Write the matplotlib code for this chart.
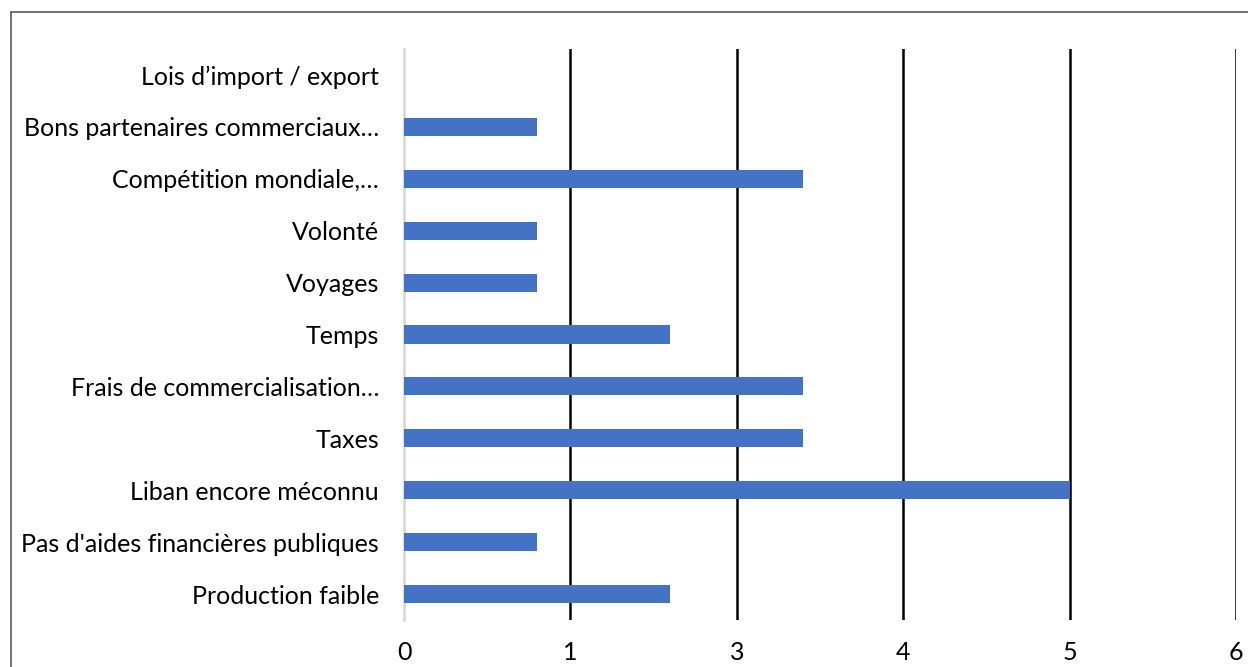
import matplotlib
matplotlib.use('Agg')
import matplotlib.pyplot as plt
from matplotlib.patches import Rectangle

plt.rcParams['font.family'] = ['Lato', 'DejaVu Sans']

# categories top to bottom
categories = ["Lois d\u2019import / export",
              "Bons partenaires commerciaux\u2026",
              "Comp\u00e9tition mondiale,\u2026",
              "Volont\u00e9",
              "Voyages",
              "Temps",
              "Frais de commercialisation\u2026",
              "Taxes",
              "Liban encore m\u00e9connu",
              "Pas d'aides financi\u00e8res publiques",
              "Production faible"]
values = [0, 0.8, 2.4, 0.8, 0.8, 1.6, 2.4, 2.4, 4.0, 0.8, 1.6]
tick_pos = [0, 1, 2, 3, 4, 5]
tick_labels = ["0", "1", "3", "4", "5", "6"]

fig = plt.figure(figsize=(12.48, 6.67), dpi=100)
ax = fig.add_axes([404/1248, 1-620/667, 832/1248, 571/667])

ypos = list(range(len(categories)))[::-1]
ax.barh(ypos, values, height=0.35, color='#4472C4', zorder=3)

ax.set_xlim(0, 5)
ax.set_ylim(-0.5, len(categories)-0.5)
ax.set_xticks(tick_pos)
ax.set_xticklabels(tick_labels)
ax.set_yticks(ypos)
ax.set_yticklabels(categories)
ax.tick_params(axis='both', length=0, labelsize=18)
ax.tick_params(axis='y', pad=18)
ax.tick_params(axis='x', pad=15)

for x in tick_pos[1:]:
    ax.axvline(x, color='black', lw=1.8, zorder=2)
for s in ['top', 'right', 'bottom']:
    ax.spines[s].set_visible(False)
ax.spines['left'].set_color('#d9d9d9')
ax.spines['left'].set_linewidth(2)

# outer chart border (cut off at right/bottom)
fig.patches.append(Rectangle((11/1248, -0.05), 1.2, 1-12/667+0.05,
                             transform=fig.transFigure, fill=False,
                             edgecolor='#595959', lw=1.2))

fig.savefig('out.png', dpi=100)
